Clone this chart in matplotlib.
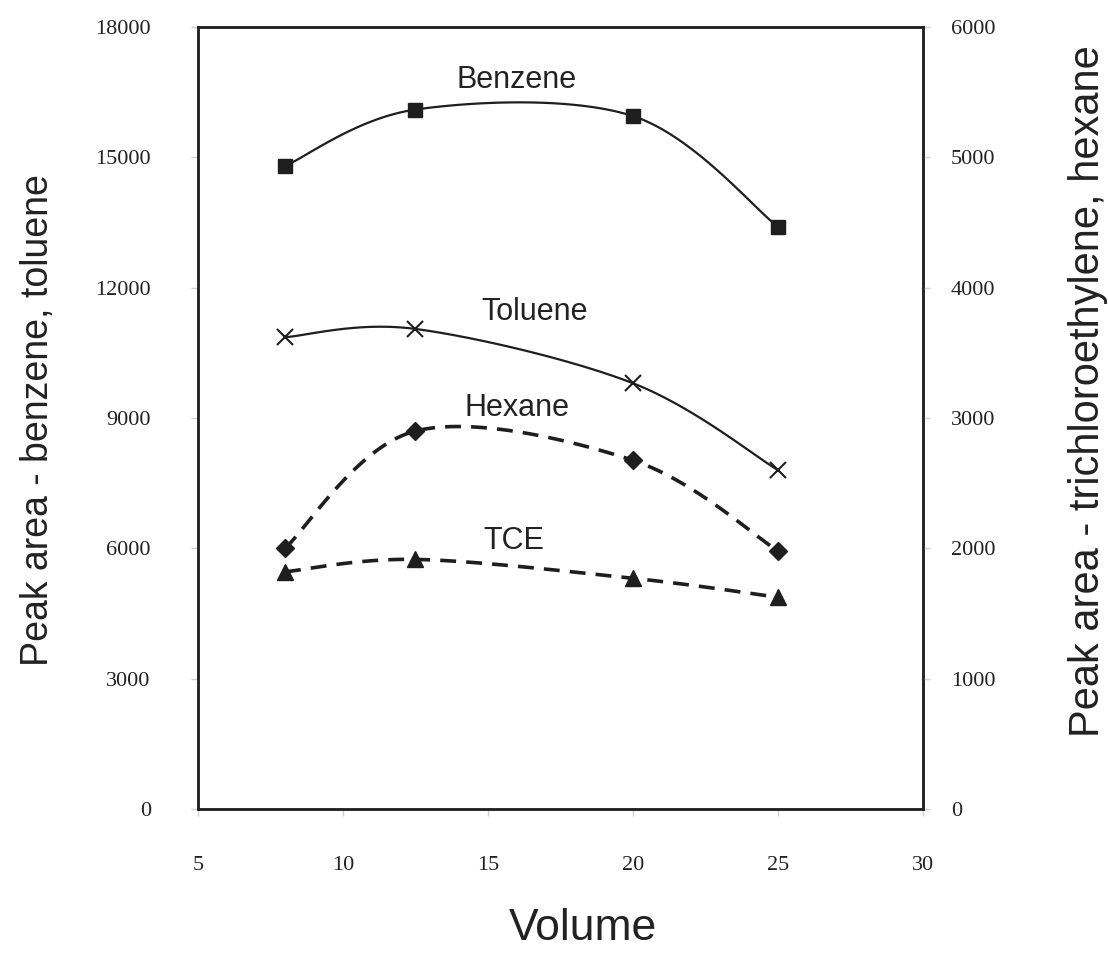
import numpy as np
import matplotlib
matplotlib.use('Agg')
import matplotlib.pyplot as plt

# peak areas vs sample volume
volume = [8, 12.5, 20, 25]
benzene = [14800, 16100, 15950, 13400]
toluene = [10860, 11050, 9800, 7800]
hexane = [2000, 2900, 2675, 1980]
tce = [1820, 1915, 1770, 1625]

left_ticks = [0, 3000, 6000, 9000, 12000, 15000, 18000]
right_ticks = [0, 1000, 2000, 3000, 4000, 5000, 6000]
x_ticks = [5, 10, 15, 20, 25, 30]


def smooth(xs, ys, n=40):
    # bezier smoothing through the points, like a spreadsheet "smoothed line"
    p = np.column_stack([xs, ys]).astype(float)
    p = np.vstack([p[0], p, p[-1]])
    out = []
    for i in range(1, len(p) - 2):
        p0, p1, p2, p3 = p[i - 1], p[i], p[i + 1], p[i + 2]
        b1 = p1 + (p2 - p0) / 6.0
        b2 = p2 - (p3 - p1) / 6.0
        t = np.linspace(0, 1, n)[:, None]
        seg = ((1 - t) ** 3) * p1 + 3 * ((1 - t) ** 2) * t * b1 + 3 * (1 - t) * t ** 2 * b2 + t ** 3 * p2
        out.append(seg if i == 1 else seg[1:])
    c = np.vstack(out)
    return c[:, 0], c[:, 1]


fig = plt.figure(figsize=(11.08, 9.55), dpi=100)
ax = fig.add_axes([0.1787, 0.1529, 0.6543, 0.8188])
ax2 = ax.twinx()

serif = ['Liberation Serif', 'DejaVu Serif']
sans = ['Liberation Sans', 'DejaVu Sans']
ink = '#1e1e1e'

# left axis: benzene, toluene
sx, sy = smooth(volume, benzene)
ax.plot(sx, sy, color=ink, lw=1.6)
ax.plot(volume, benzene, ls='none', marker='s', ms=10, color=ink)
sx, sy = smooth(volume, toluene)
ax.plot(sx, sy, color=ink, lw=1.6)
ax.plot(volume, toluene, ls='none', marker='x', ms=12, mew=1.5, color=ink)

# right axis: hexane, TCE
sx, sy = smooth(volume, hexane)
ax2.plot(sx, sy, color=ink, lw=2.6, dashes=(4.4, 2.8))
ax2.plot(volume, hexane, ls='none', marker='D', ms=9, color=ink)
sx, sy = smooth(volume, tce)
ax2.plot(sx, sy, color=ink, lw=2.6, dashes=(4.4, 2.8))
ax2.plot(volume, tce, ls='none', marker='^', ms=11, color=ink)

ax.set_xlim(5, 30)
ax.set_ylim(0, 18000)
ax2.set_ylim(0, 6000)
ax.set_xticks(x_ticks)
ax.set_yticks(left_ticks)
ax2.set_yticks(right_ticks)

for a in (ax, ax2):
    for s in a.spines.values():
        s.set_linewidth(1.8)
        s.set_color('#222222')

ax.tick_params(axis='y', length=5, width=1, color='#d0d0d0', pad=29, labelsize=16, labelcolor='#222222')
ax.tick_params(axis='x', length=5, width=1, color='#d0d0d0', pad=29, labelsize=16, labelcolor='#222222')
ax2.tick_params(axis='y', length=5, width=1, color='#d0d0d0', pad=15, labelsize=16, labelcolor='#222222')
for lab in ax.get_xticklabels() + ax.get_yticklabels() + ax2.get_yticklabels():
    lab.set_family(serif)

# series names
ax.text(16.0, 16780, 'Benzene', fontsize=22, family=sans, ha='center', va='center', color='#222222')
ax.text(16.6, 11440, 'Toluene', fontsize=22, family=sans, ha='center', va='center', color='#222222')
ax2.text(16.0, 3075, 'Hexane', fontsize=22, family=sans, ha='center', va='center', color='#222222')
ax2.text(15.9, 2055, 'TCE', fontsize=22, family=sans, ha='center', va='center', color='#222222')

fig.text(0.526, 0.006, 'Volume', fontsize=32, family=sans, ha='center', va='bottom', color='#222222')
fig.text(0.034, 0.56, 'Peak area - benzene, toluene', fontsize=27, family=sans,
         rotation=90, ha='center', va='center', color='#222222')
fig.text(0.982, 0.59, 'Peak area - trichloroethylene, hexane', fontsize=30, family=sans,
         rotation=90, ha='center', va='center', color='#222222')

fig.savefig('out.png', dpi=100)
